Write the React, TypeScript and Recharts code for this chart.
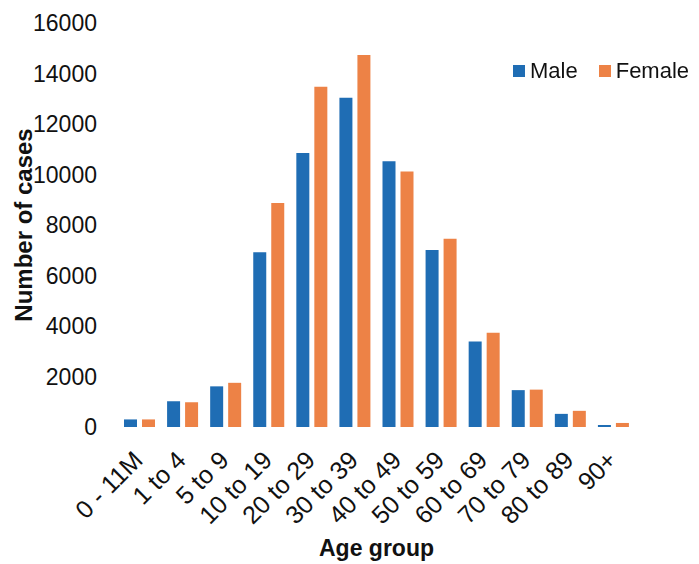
import { Bar, BarChart, Label, XAxis, YAxis } from "recharts";

const ageGroups = ["0 - 11M", "1 to 4", "5 to 9", "10 to 19", "20 to 29", "30 to 39", "40 to 49", "50 to 59", "60 to 69", "70 to 79", "80 to 89", "90+"];
const maleCases = [300, 1020, 1610, 6920, 10850, 13040, 10520, 7010, 3390, 1460, 520, 80];
const femaleCases = [300, 980, 1750, 8870, 13480, 14730, 10120, 7460, 3730, 1480, 640, 160];
const yTicks = [0, 2000, 4000, 6000, 8000, 10000, 12000, 14000, 16000];
const seriesNames = ["Male", "Female"];

const BLUE = "#1f6db4";
const ORANGE = "#ed8246";
const seriesColors = [BLUE, ORANGE];
const FONT = "'Liberation Sans', Arial, sans-serif";

const chartData = ageGroups.map((g, i) => ({
  group: g,
  Male: maleCases[i],
  Female: femaleCases[i],
}));

// rotated category label, ends just under the category centre
const AgeTick = (props: any) => {
  const { x, y, payload } = props;
  return (
    <g transform={`translate(${x - 8},${y + 22})`}>
      <text
        transform="rotate(-45)"
        textAnchor="end"
        dy="0.72em"
        fontFamily={FONT}
        fontSize={25}
        fill="#111"
      >
        {payload.value}
      </text>
    </g>
  );
};

export default function App() {
  return (
    <div style={{ position: "fixed", top: 0, left: 0, width: 699, height: 564, background: "#fff" }}>
      {/* legend drawn on top, top right like the original */}
      <div
        style={{
          position: "absolute",
          top: 58,
          left: 513,
          display: "flex",
          fontFamily: FONT,
          fontSize: 22,
          color: "#111",
          zIndex: 2,
        }}
      >
        {seriesNames.map((name, i) => (
          <div key={name} style={{ display: "flex", alignItems: "center", marginRight: 21 }}>
            <span style={{ width: 12, height: 12, background: seriesColors[i], display: "inline-block", marginRight: 5 }} />
            <span>{name}</span>
          </div>
        ))}
      </div>
      <BarChart
        width={699}
        height={564}
        data={chartData}
        margin={{ top: 23, right: 64, bottom: 6, left: 38 }}
        barSize={13}
        barGap={5}
      >
        <XAxis
          dataKey="group"
          axisLine={false}
          tickLine={false}
          interval={0}
          tickSize={0}
          tickMargin={0}
          height={131}
          tick={<AgeTick />}
        >
          <Label
            value="Age group"
            position="insideBottom"
            offset={2}
            style={{ fontFamily: FONT, fontSize: 23, fontWeight: "bold", fill: "#111" }}
          />
        </XAxis>
        <YAxis
          width={80}
          domain={[0, 16000]}
          ticks={yTicks}
          axisLine={false}
          tickLine={false}
          tickSize={0}
          tickMargin={21}
          tick={{ fontFamily: FONT, fontSize: 23, fill: "#111" }}
        >
          <Label
            value="Number of cases"
            angle={-90}
            position="insideLeft"
            offset={-15}
            style={{ fontFamily: FONT, fontSize: 24, fontWeight: "bold", fill: "#111", textAnchor: "middle" }}
          />
        </YAxis>
        <Bar dataKey="Male" fill={BLUE} isAnimationActive={false} />
        <Bar dataKey="Female" fill={ORANGE} isAnimationActive={false} />
      </BarChart>
    </div>
  );
}
